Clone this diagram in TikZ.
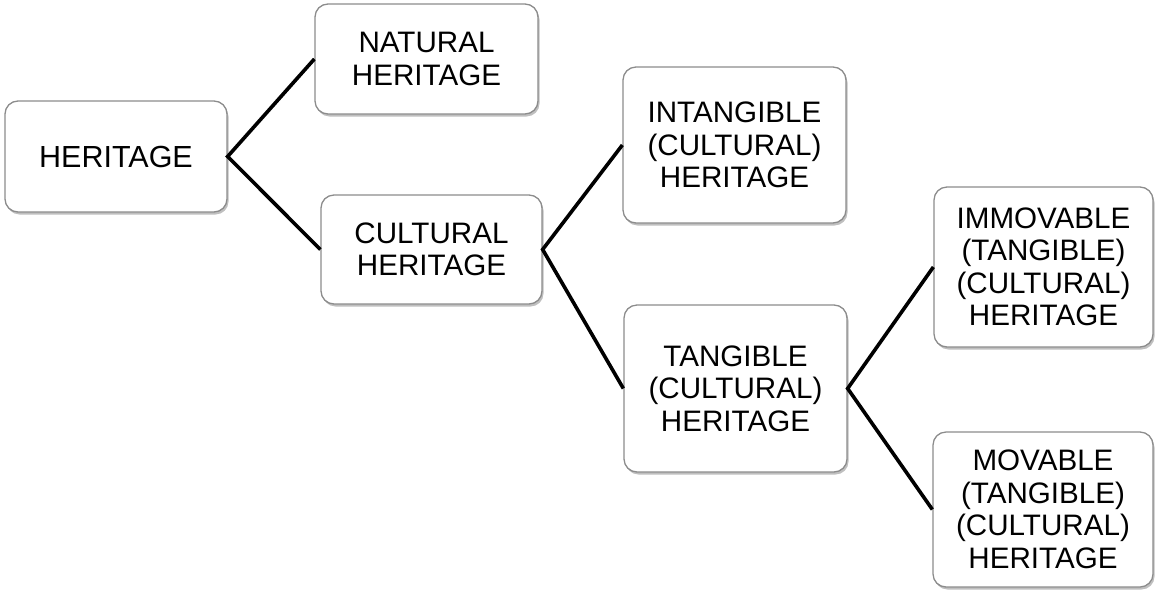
\documentclass[tikz,border=0pt]{standalone}
\usepackage{fontspec}
\setmainfont{Liberation Sans}
\usetikzlibrary{shadows}
\definecolor{boxborder}{HTML}{8C8C8C}
\begin{document}
\begin{tikzpicture}[x=1pt,y=-1pt,
  hbox/.style={draw=boxborder, line width=1.3pt, fill=white, rounded corners=13pt,
    inner sep=0pt, align=center,
    font=\fontsize{29.6}{32.5}\selectfont,
    drop shadow={shadow xshift=1.5pt, shadow yshift=-2.5pt, fill=black, opacity=0.25}},
  bigtext/.style={font=\fontsize{30.5}{33}\selectfont},
  link/.style={line width=3.6pt, black}]
\useasboundingbox (0,0) rectangle (1155,592);
\node[hbox, bigtext, minimum width=222pt, minimum height=111pt] (her) at (116,156.5) {HERITAGE};
\node[hbox, minimum width=223pt, minimum height=110pt] (nat) at (426.5,59) {NATURAL\\HERITAGE};
\node[hbox, minimum width=221pt, minimum height=109pt] (cul) at (431.5,249.5) {CULTURAL\\HERITAGE};
\node[hbox, minimum width=223pt, minimum height=156pt] (intan) at (734.5,145) {INTANGIBLE\\(CULTURAL)\\HERITAGE};
\node[hbox, minimum width=223pt, minimum height=167pt] (tan) at (735.5,388.5) {TANGIBLE\\(CULTURAL)\\HERITAGE};
\node[hbox, minimum width=219pt, minimum height=160pt] (immov) at (1043.5,267) {IMMOVABLE\\(TANGIBLE)\\(CULTURAL)\\HERITAGE};
\node[hbox, minimum width=220pt, minimum height=155pt] (mov) at (1043,509.5) {MOVABLE\\(TANGIBLE)\\(CULTURAL)\\HERITAGE};
\draw[link] (nat.west) -- (her.east) -- (cul.west);
\draw[link] (intan.west) -- (cul.east) -- (tan.west);
\draw[link] (immov.west) -- (tan.east) -- (mov.west);
\end{tikzpicture}
\end{document}
